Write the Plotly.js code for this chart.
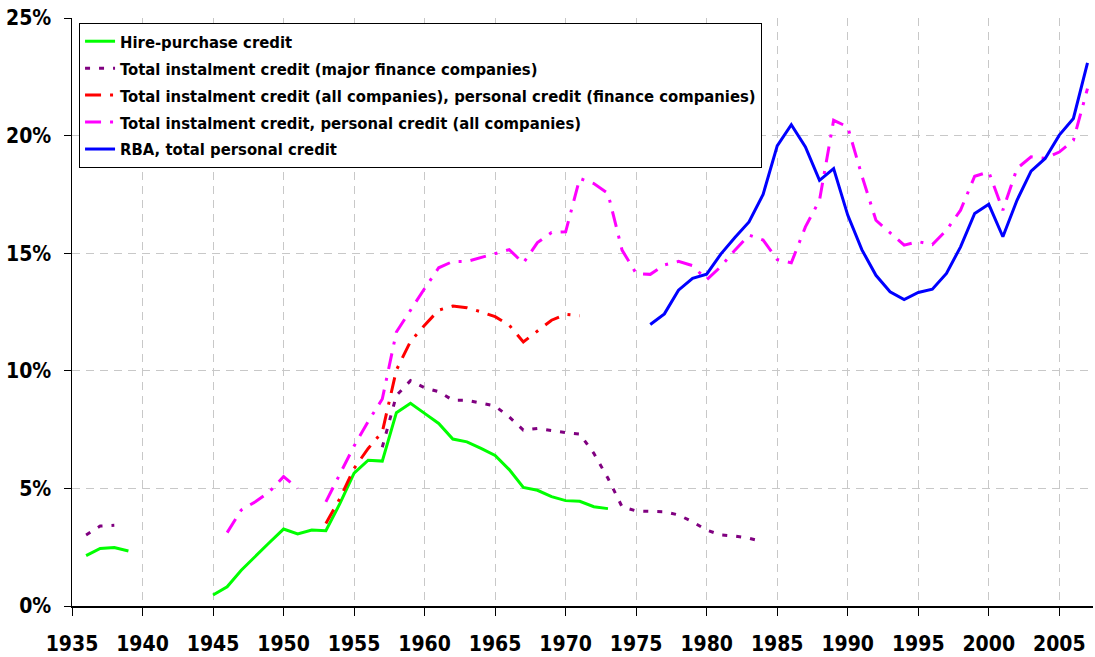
<!DOCTYPE html>
<html>
<head>
<meta charset="utf-8">
<script src="https://cdn.plot.ly/plotly-3.0.1.min.js"></script>
<style>
  html, body { margin: 0; padding: 0; background: #fff; }
  #chart { width: 1095px; height: 657px; }
</style>
</head>
<body>
<div id="chart"></div>
<script>
// ---- Data (percent) ----
const hpYears = [1936,1937,1938,1939,1940,1945,1946,1947,1948,1949,1950,1951,1952,1953,1954,1955,1956,1957,1958,1959,1960,1961,1962,1963,1964,1965,1966,1967,1968,1969,1970,1971,1972,1973];
const hpValues = [2.14,2.45,2.49,2.34,null,0.47,0.82,1.52,2.12,2.70,3.27,3.06,3.23,3.20,4.36,5.65,6.20,6.16,8.22,8.62,8.19,7.76,7.10,6.98,6.70,6.40,5.80,5.04,4.92,4.65,4.48,4.45,4.22,4.14];

const majorYears = [1936,1937,1938,1939,1957,1958,1959,1960,1961,1962,1963,1964,1965,1966,1967,1968,1969,1970,1971,1972,1973,1974,1975,1976,1977,1978,1979,1980,1981,1982,1983,1984];
const majorValues = [3.02,3.40,3.43,null,6.75,8.95,9.58,9.28,9.11,8.75,8.75,8.61,8.50,8.04,7.48,7.55,7.45,7.37,7.31,6.49,5.43,4.22,4.04,4.04,4.01,3.87,3.58,3.23,3.02,2.97,2.88,2.73];

const allCoYears = [1953,1954,1955,1956,1957,1958,1959,1960,1961,1962,1963,1964,1965,1966,1967,1968,1969,1970,1971];
const allCoValues = [3.51,4.58,5.85,6.70,7.40,10.03,11.25,11.94,12.58,12.75,12.68,12.51,12.30,11.94,11.23,11.69,12.15,12.40,12.34];

const totalYears = [1946,1947,1948,1949,1950,1951,1952,1953,1954,1955,1956,1957,1958,1959,1960,1961,1962,1963,1964,1965,1966,1967,1968,1969,1970,1971,1972,1973,1974,1975,1976,1977,1978,1979,1980,1981,1982,1983,1984,1985,1986,1987,1988,1989,1990,1991,1992,1993,1994,1995,1996,1997,1998,1999,2000,2001,2002,2003,2004,2005,2006,2007];
const totalValues = [3.12,4.08,4.43,4.86,5.50,5.00,null,4.43,5.60,6.80,7.85,8.80,11.65,12.58,13.50,14.38,14.65,14.65,14.82,14.96,15.15,14.58,15.45,15.88,15.91,18.18,17.96,17.54,15.13,14.14,14.10,14.50,14.65,14.47,13.87,14.43,15.13,15.77,15.56,14.73,14.59,16.12,17.25,20.65,20.37,18.30,16.40,15.87,15.34,15.49,15.37,15.98,16.83,18.27,18.46,16.83,18.60,19.10,19.03,19.30,19.80,22.00];

const rbaYears = [1976,1977,1978,1979,1980,1981,1982,1983,1984,1985,1986,1987,1988,1989,1990,1991,1992,1993,1994,1995,1996,1997,1998,1999,2000,2001,2002,2003,2004,2005,2006,2007];
const rbaValues = [11.97,12.42,13.43,13.93,14.11,14.96,15.67,16.33,17.50,19.56,20.46,19.52,18.10,18.60,16.62,15.15,14.06,13.36,13.03,13.33,13.47,14.14,15.27,16.69,17.08,15.70,17.25,18.49,19.03,20.02,20.73,23.09];

const seriesNames = [
  "Hire-purchase credit",
  "Total instalment credit (major finance companies)",
  "Total instalment credit (all companies), personal credit (finance companies)",
  "Total instalment credit, personal credit (all companies)",
  "RBA, total personal credit"
];

const FONT = '"DejaVu Sans Condensed", "Liberation Sans Narrow", "Arial Narrow", sans-serif';

const traces = [
  {x: hpYears, y: hpValues, name: seriesNames[0], mode: 'lines', legendgroup: 'g1',
   line: {color: '#00ff00', width: 3}},
  {x: majorYears, y: majorValues, name: seriesNames[1], mode: 'lines', legendgroup: 'g2',
   line: {color: '#800080', width: 3, dash: '5px,9px'}},
  {x: allCoYears, y: allCoValues, name: seriesNames[2], mode: 'lines', legendgroup: 'g3',
   line: {color: '#ff0000', width: 3, dash: '16px,9px,3px,9px'}},
  {x: totalYears, y: totalValues, name: seriesNames[3], mode: 'lines', legendgroup: 'g4',
   line: {color: '#ff00ff', width: 3, dash: '16px,9px,3px,9px'}},
  {x: rbaYears, y: rbaValues, name: seriesNames[4], mode: 'lines', legendgroup: 'g5',
   line: {color: '#0000ff', width: 3}}
];

const layout = {
  width: 1095, height: 657,
  margin: {l: 72, r: 2, t: 18, b: 51, pad: 0},
  paper_bgcolor: '#ffffff', plot_bgcolor: '#ffffff',
  showlegend: true,
  font: {family: FONT, size: 21, color: '#000', weight: 'bold'},
  xaxis: {
    range: [1935, 2007.39], tick0: 1935, dtick: 5, tickmode: 'linear',
    showgrid: true, gridcolor: '#c8c8c8', gridwidth: 1, griddash: '8px,6px',
    zeroline: false, showline: true, linecolor: '#000', linewidth: 2,
    ticks: 'outside', ticklen: 8, tickcolor: '#000', tickwidth: 1,
    ticklabelstandoff: 10,
    tickfont: {family: FONT, size: 21, color: '#000', weight: 'bold'}
  },
  yaxis: {
    range: [0, 25], tick0: 0, dtick: 5, tickmode: 'linear', ticksuffix: '%',
    showgrid: true, gridcolor: '#c8c8c8', gridwidth: 1, griddash: '8px,6px',
    zeroline: false, showline: true, linecolor: '#000', linewidth: 1.5,
    ticks: 'outside', ticklen: 7, tickcolor: '#000', tickwidth: 1,
    ticklabelstandoff: 8,
    tickfont: {family: FONT, size: 21, color: '#000', weight: 'bold'}
  },
  legend: {
    x: 0.0069, y: 0.9915, xanchor: 'left', yanchor: 'top',
    bgcolor: '#ffffff', bordercolor: '#000', borderwidth: 1,
    font: {family: FONT, size: 16.5, color: '#000', weight: 'bold'},
    traceorder: 'grouped', tracegroupgap: 2.5
  }
};

Plotly.newPlot('chart', traces, layout, {displayModeBar: false, staticPlot: true});
</script>
</body>
</html>
